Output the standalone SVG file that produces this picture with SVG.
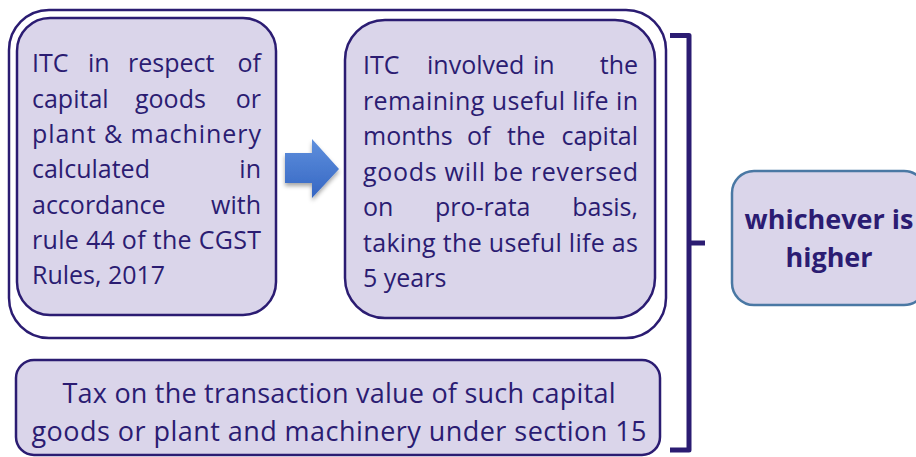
<svg xmlns="http://www.w3.org/2000/svg" width="916" height="457" viewBox="0 0 916 457">
<defs>
<linearGradient id="arrowGrad" x1="0" y1="0" x2="0" y2="1">
<stop offset="0" stop-color="#5F90DD"/>
<stop offset="1" stop-color="#3566C3"/>
</linearGradient>
<filter id="shadow" x="-30%" y="-30%" width="160%" height="170%">
<feDropShadow dx="0" dy="3" stdDeviation="2" flood-color="#000" flood-opacity="0.35"/>
</filter>
<style>
.box{fill:#DAD5EA;stroke:#2B1C72;stroke-width:2.5}
.outer{fill:none;stroke:#2B1C72;stroke-width:2.5}
.txt{font-family:"Open Sans","Noto Sans","Liberation Sans",sans-serif;font-size:25px;fill:#2B1C72}
.big{font-family:"Open Sans","Noto Sans","Liberation Sans",sans-serif;font-size:27px;fill:#2B1C72}
.bold{font-family:"Open Sans","Noto Sans","Liberation Sans",sans-serif;font-size:27px;font-weight:bold;fill:#2B1C72}
.brk{fill:none;stroke:#2B1C72;stroke-width:5;stroke-linejoin:round}
.e{text-anchor:end}
</style>
</defs>
<rect id="container" class="outer" x="9" y="10" width="657" height="328" rx="40"/>
<g id="node-itc-respect">
<rect class="box" x="17" y="18" width="259" height="297" rx="33"/>
<text class="txt"><tspan x="32" y="72">ITC</tspan><tspan x="88" y="72">in</tspan><tspan x="128" y="72">respect</tspan><tspan class="e" x="261" y="72">of</tspan></text>
<text class="txt"><tspan x="32" y="107.5">capital</tspan><tspan x="135" y="107.5">goods</tspan><tspan class="e" x="261" y="107.5">or</tspan></text>
<text class="txt" x="32" y="143" textLength="229">plant &amp; machinery</text>
<text class="txt"><tspan x="32" y="178">calculated</tspan><tspan class="e" x="261" y="178">in</tspan></text>
<text class="txt"><tspan x="32" y="213.5">accordance</tspan><tspan class="e" x="261" y="213.5">with</tspan></text>
<text class="txt" x="32" y="249" textLength="229">rule 44 of the CGST</text>
<text class="txt" x="32" y="284">Rules, 2017</text>
</g>
<g id="node-itc-involved">
<rect class="box" x="345" y="20" width="310" height="298" rx="40"/>
<text class="txt"><tspan x="363" y="74">ITC</tspan><tspan x="427" y="74">involved</tspan><tspan x="533" y="74">in</tspan><tspan class="e" x="638" y="74">the</tspan></text>
<text class="txt" x="363" y="109.5" textLength="275">remaining useful life in</text>
<text class="txt"><tspan x="363" y="145">months</tspan><tspan x="467" y="145">of</tspan><tspan x="507" y="145">the</tspan><tspan class="e" x="638" y="145">capital</tspan></text>
<text class="txt" x="363" y="180.5" textLength="275">goods will be reversed</text>
<text class="txt"><tspan x="363" y="216">on</tspan><tspan x="435" y="216">pro-rata</tspan><tspan class="e" x="638" y="216">basis,</tspan></text>
<text class="txt" x="363" y="251.5" textLength="275">taking the useful life as</text>
<text class="txt" x="363" y="287">5 years</text>
</g>
<g id="node-tax">
<rect class="box" x="16" y="360" width="644" height="95" rx="18"/>
<text class="big" text-anchor="middle" x="339" y="403" textLength="553">Tax on the transaction value of such capital</text>
<text class="big" text-anchor="middle" x="339" y="441" textLength="615">goods or plant and machinery under section 15</text>
</g>
<g id="node-higher">
<rect x="732" y="171" width="194" height="134" rx="22" fill="#DAD5EA" stroke="#4A78A4" stroke-width="2.5"/>
<text class="bold" text-anchor="middle" x="829" y="229">whichever is</text>
<text class="bold" text-anchor="middle" x="829" y="267">higher</text>
</g>
<g id="connectors">
<path d="M285 153 H312 V139 L339 169 L312 198 V183 H285 Z" fill="url(#arrowGrad)" filter="url(#shadow)"/>
<path class="brk" d="M670 35.5 H689 V450 H670"/>
<path class="brk" d="M689 243 H705"/>
</g>
</svg>
